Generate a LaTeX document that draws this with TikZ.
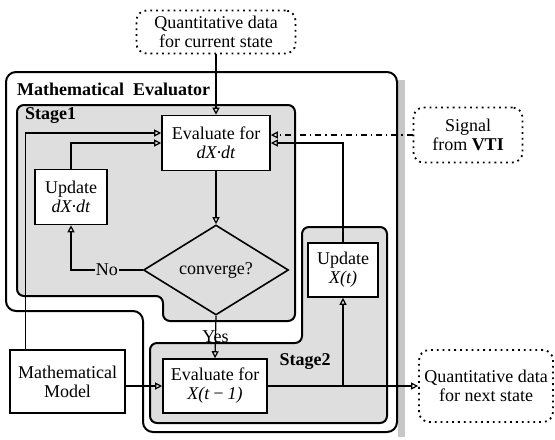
\documentclass[tikz,border=0pt]{standalone}
\usepackage{fontspec}
\setmainfont{Liberation Serif}
\usetikzlibrary{arrows.meta,shapes.geometric,positioning}
\tikzset{
  box/.style={draw, line width=0.8pt, fill=white, align=center, inner sep=1pt},
  extbox/.style={draw, dotted, line width=0.9pt, rounded corners=5pt, align=center, inner sep=1pt},
  cond/.style={diamond, draw, line width=0.8pt, inner sep=0pt, aspect=1.6},
  arr/.style={line width=0.6pt, -{Triangle[open,length=3.5pt,width=3.5pt]}},
  region/.style={line width=1pt, rounded corners=3.5pt},
  stagefill/.style={fill=black!13},
  title/.style={font=\fontsize{9}{10}\selectfont\bfseries},
}
\begin{document}
\begin{tikzpicture}[x=0.5pt, y=-0.5pt, font=\fontsize{9}{9.5}\selectfont]
        \useasboundingbox (0,0) rectangle (555,439);

        % scan shadow beside the evaluator
        \fill[black!22] (398,80) rectangle (405,437);

        % mathematical evaluator
        \draw[region, rounded corners=5pt]
            (6,72) -- (397,72) -- (397,432) -- (143,432)
            -- (143,311) -- (6,311) -- cycle;
        \node[anchor=west, title] (evaltitle) at (10,89)
            {Mathematical\enspace Evaluator};

        % stage 1
        \draw[region, stagefill]
            (17,105) -- (295,105) -- (295,321) -- (163,321)
            -- (163,296) -- (17,296) -- cycle;
        \node[anchor=west, title] (stageone) at (18,116) {Stage1};

        % stage 2
        \draw[region, stagefill]
            (150,343) -- (302,343) -- (302,227) -- (387,227)
            -- (387,423) -- (150,423) -- cycle;
        \node[title] (stagetwo) at (305,362) {Stage2};

        % blocks
        \node[extbox, minimum width=79.5pt, minimum height=21.5pt] (cur) at (216,32)
            {Quantitative data\\for current state};
        \node[box, minimum width=54pt, minimum height=27.5pt] (evaldx) at (216,143)
            {Evaluate for\\\textit{dX·dt}};
        \node[box, minimum width=36pt, minimum height=27.5pt] (upddx) at (71,197)
            {Update\\\textit{dX·dt}};
        \node[cond, minimum width=72.5pt, minimum height=45pt] (conv) at (216,270) {converge?};
        \node[box, minimum width=52pt, minimum height=27pt] (evalx) at (215,386)
            {Evaluate for\\\textit{X(t\,−\,1)}};
        \node[box, minimum width=57.5pt, minimum height=31.5pt] (model) at (67.5,381.5)
            {Mathematical\\Model};
        \node[box, minimum width=35pt, minimum height=27pt] (updx) at (343,270)
            {Update\\\textit{X(t)}};
        \node[extbox, minimum width=54.5pt, minimum height=27.5pt] (sig) at (468,135)
            {Signal\\from \textbf{VTI}};
        \node[extbox, minimum width=67pt, minimum height=36pt] (nxt) at (486,386)
            {Quantitative data\\for next state};

        % connectors
        \draw[arr] (cur) -- (evaldx);
        \draw[arr] ([xshift=-21pt]model.north) |- ([yshift=5pt]evaldx.west);
        \draw[arr] (upddx.north) |- (evaldx.west);
        \draw[arr] (evaldx) -- (conv);
        \draw[arr] (conv.west) -- node[fill=black!13, inner sep=0.5pt] (no) {No}
            (upddx.south |- conv.west) -- (upddx.south);
        \draw[arr] (conv.south) -- node[inner sep=0.5pt] (yes) {Yes} (evalx.north);
        \draw[arr] (model.east |- evalx.west) -- (evalx.west);
        \draw[arr] (evalx.east) -- (nxt.west);
        \draw[arr] (updx.south |- evalx.east) -- (updx.south);
        \draw[arr] (updx.north) |- (evaldx.east);
        \draw[arr, dash dot] (sig.west) -- ([yshift=4pt]evaldx.east);
    \end{tikzpicture}
\end{document}
